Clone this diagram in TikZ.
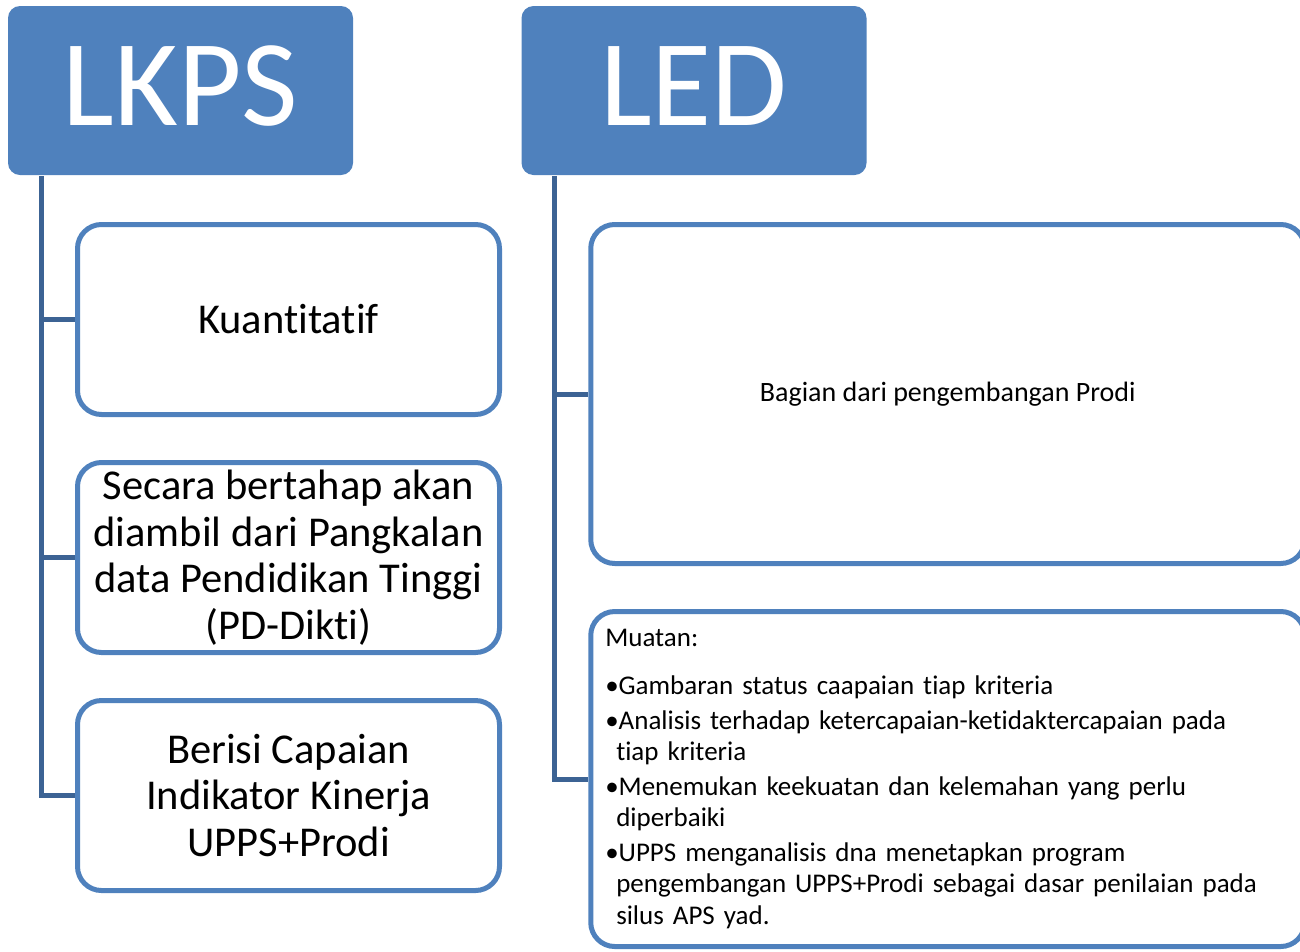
\documentclass[tikz,border=0pt]{standalone}
\usepackage{fontspec}
\setmainfont{Carlito}[Ligatures=NoCommon]
\usepackage{xcolor}
\usetikzlibrary{positioning}

\definecolor{boxblue}{RGB}{79,129,189}
\definecolor{trunkblue}{RGB}{60,99,148}

\begin{document}
\begin{tikzpicture}[
    x=1pt,
    y=-1pt,
    header/.style={
        rectangle,
        fill=boxblue,
        text=white,
        rounded corners=12pt,
        minimum width=345pt,
        minimum height=169pt,
        text depth=9pt,
        inner sep=0pt,
        font=\fontsize{123}{123}\selectfont
    },
    item/.style={
        rectangle,
        draw=boxblue,
        fill=white,
        line width=5pt,
        rounded corners=24pt,
        minimum width=422pt,
        minimum height=190pt,
        align=center,
        inner sep=0pt,
        font=\fontsize{42.5}{46.5}\selectfont
    },
    wideitem/.style={
        item,
        minimum width=714pt,
        font=\fontsize{27}{31.5}\selectfont
    },
    branch/.style={draw=trunkblue, line width=5pt}
]

\clip (0,0) rectangle (1300,951);

\node[header] (lkps) at (180.5,90.5) {LKPS};
\node[header] (led) at (694,90.5) {LED};

\node[item] (kuant) at (288.5,319.5) {Kuantitatif};
\node[item] (pddikti) at (288.5,557.5) {Secara bertahap akan\\diambil dari Pangkalan\\data Pendidikan Tinggi\\(PD-Dikti)};
\node[item] (capaian) at (288.5,795.5) {Berisi Capaian\\Indikator Kinerja\\UPPS+Prodi};

\node[wideitem, minimum height=339pt, font=\fontsize{28}{31}\selectfont] (bagian) at (947.75,394) {Bagian dari pengembangan Prodi};
\node[wideitem, minimum height=335pt, align=left, text width=685pt, inner xsep=14.5pt] (muatan) at (947.75,779)
    {Muatan:\\[16pt]
     •Gambaran status caapaian tiap kriteria\\[3pt]
     •Analisis terhadap ketercapaian-ketidaktercapaian pada\\
     \hspace*{11pt}tiap kriteria\\[3pt]
     •Menemukan keekuatan dan kelemahan yang perlu\\
     \hspace*{11pt}diperbaiki\\[3pt]
     •UPPS menganalisis dna menetapkan program\\
     \hspace*{11pt}pengembangan UPPS+Prodi sebagai dasar penilaian pada\\
     \hspace*{11pt}silus APS yad.};

\coordinate (lkpsroot) at (41,176);
\coordinate (ledroot) at (554,176);

\foreach \n in {kuant,pddikti,capaian}
    \draw[branch] (lkpsroot) |- (\n.west);
\foreach \n in {bagian,muatan}
    \draw[branch] (ledroot) |- (\n.west);

\end{tikzpicture}
\end{document}
